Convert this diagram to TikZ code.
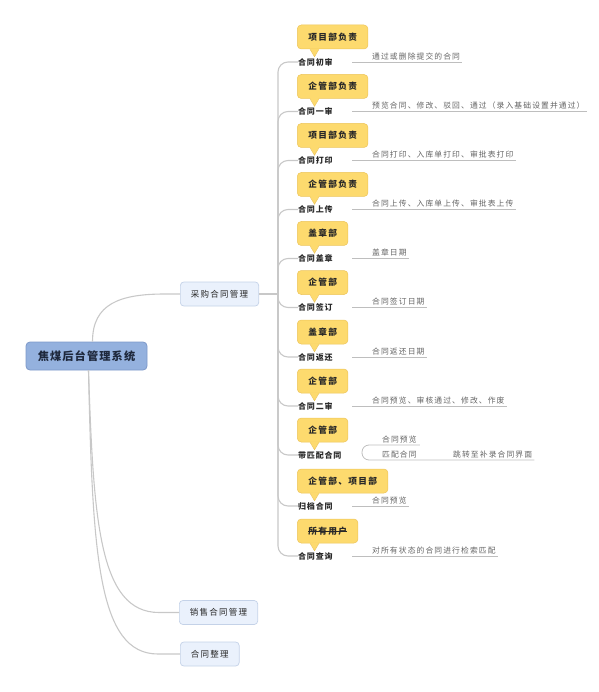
\documentclass[tikz,border=0pt]{standalone}
\usepackage{fontspec}
\usetikzlibrary{calc}
\newfontfamily\fa[LetterSpace=10]{Noto Sans CJK SC}
\newfontfamily\fb[LetterSpace=15]{Noto Sans CJK SC}
\newfontfamily\fc[LetterSpace=14]{Noto Sans CJK SC}
\definecolor{rootfill}{RGB}{148,177,222}
\definecolor{rootdraw}{RGB}{125,152,200}
\definecolor{roottext}{RGB}{30,40,60}
\definecolor{topicfill}{RGB}{234,241,252}
\definecolor{topicdraw}{RGB}{196,210,232}
\definecolor{callfill}{RGB}{253,218,110}
\definecolor{calldraw}{RGB}{236,196,90}
\definecolor{linegray}{RGB}{200,200,200}
\definecolor{ulinegray}{RGB}{190,190,190}
\definecolor{desctext}{RGB}{100,100,100}
\definecolor{darktext}{RGB}{40,40,40}
\newcommand\strikeit[1]{\setbox0\hbox{#1}\rlap{\rule[0.32em]{\wd0}{0.6pt}}\box0}
\newcommand\calltail[1]{%
  \fill[callfill] ($(#1.south west)+(13,-0.7)$) -- ($(#1.south west)+(22,-0.7)$) -- ($(#1.south west)+(17.5,7.5)$) -- cycle;
  \draw[calldraw, line width=0.5pt] ($(#1.south west)+(13,0)$) -- ($(#1.south west)+(17.5,7.5)$) -- ($(#1.south west)+(22,0)$);}
\tikzset{
  rootbox/.style={draw=rootdraw, fill=rootfill, rounded corners=4pt, minimum width=121pt, minimum height=28pt, inner sep=0pt, font=\fa\bfseries\fontsize{11.2}{13}\selectfont, text=roottext, line width=0.8pt},
  topicbox/.style={draw=topicdraw, fill=topicfill, rounded corners=3.5pt, minimum height=24pt, inner xsep=10.5pt, inner ysep=0pt, anchor=west, font=\fb\fontsize{8.5}{10}\selectfont, text=darktext, line width=0.7pt},
  callout/.style={draw=calldraw, fill=callfill, rounded corners=4pt, minimum height=24pt, inner xsep=11pt, inner ysep=0pt, anchor=west, font=\fb\bfseries\fontsize{8.7}{10}\selectfont, text=darktext, line width=0.5pt},
  lab/.style={inner sep=0pt, anchor=west, font=\fa\bfseries\fontsize{8}{10}\selectfont, text=darktext},
  desc/.style={inner xsep=0pt, inner ysep=2pt, anchor=south west, font=\fc\fontsize{7.8}{9}\selectfont, text=desctext},
  conn/.style={draw=linegray, line width=1.1pt},
  uline/.style={draw=ulinegray, line width=0.8pt},
}
\begin{document}
\begin{tikzpicture}[x=1pt,y=-1pt]
\useasboundingbox (0,0) rectangle (598,692);
% main topics
\node[rootbox] (root) at (86.5,356) {焦煤后台管理系统};
\node[topicbox] (P) at (180,294) {采购合同管理};
\node[topicbox] (S) at (179,612.5) {销售合同管理};
\node[topicbox] (Z) at (180,654) {合同整理};
\draw[conn] ($(root.north)+(6,0)$) .. controls +(0,-38) and +(-45,0) .. ($(P.west)+(-15,0)$) -- (P.west);
\draw[conn] ($(root.south)+(2,0)$) .. controls +(5,150) and +(-60,0) .. ($(S.west)+(-20,0)$) -- (S.west);
\draw[conn] ($(root.south)+(2,0)$) .. controls +(4,185) and +(-60,0) .. ($(Z.west)+(-22,0)$) -- (Z.west);
% trunk
\coordinate (tj) at (278,294);
\draw[conn] (P.east) -- (tj);
\foreach \i/\y/\c/\l/\d in {
  1/62/项目部负责/合同初审/通过或删除提交的合同,
  2/111.5/企管部负责/合同一审/预览合同、修改、驳回、通过（录入基础设置并通过）,
  3/160.5/项目部负责/合同打印/合同打印、入库单打印、审批表打印,
  4/209.5/企管部负责/合同上传/合同上传、入库单上传、审批表上传,
  5/258.5/盖章部/合同盖章/盖章日期,
  6/307.5/企管部/合同签订/合同签订日期,
  7/357/盖章部/合同返还/合同返还日期,
  8/406/企管部/合同二审/合同预览、审核通过、修改、作废,
  10/506/企管部、项目部/归档合同/合同预览,
  11/556/{\strikeit{所有用户}}/合同查询/对所有状态的合同进行检索匹配}
{
  \node[lab] (L\i) at (298,\y) {\l};
  \node[callout] (C\i) at (297,\y-25) {\c};
  \calltail{C\i}
  \draw[conn, rounded corners=10pt] (tj) |- (L\i.west);
  \coordinate (J\i) at (352,\y);
  \node[desc] (D\i) at (372,\y) {\d};
  \draw[uline] (J\i) -- ($(D\i.south east)+(2,0)$);
}
% item with sub-branches
\node[lab] (L9) at (298,455) {带匹配合同};
\node[callout] (C9) at (297,430) {企管部};
\calltail{C9}
\draw[conn, rounded corners=10pt] (tj) |- (L9.west);
\coordinate (J9) at (362,453);
\node[desc] (M1) at (382,445) {合同预览};
\node[desc] (M2) at (382,460) {匹配合同};
\node[desc] (M3) at (453,460) {跳转至补录合同界面};
\draw[uline, rounded corners=7pt] (J9) |- (M1.south west) -- ($(M1.south east)+(3,0)$);
\draw[uline, rounded corners=7pt] (J9) |- (M2.south west) -- ($(M3.south east)+(2,0)$);
\end{tikzpicture}
\end{document}
